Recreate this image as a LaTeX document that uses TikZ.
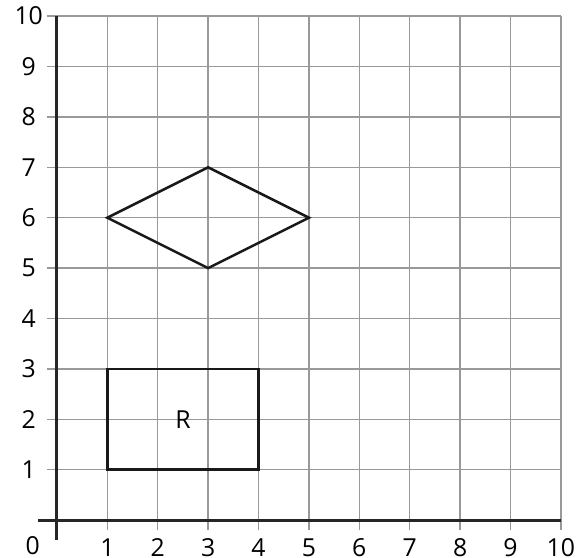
\documentclass[tikz,border=0pt]{standalone}
\usepackage{fontspec}
\setmainfont{Open Sans}
\tikzset{
  griglia/.style = {draw=black!40, line width=0.8pt},
  asse/.style    = {draw=black!85, line width=1.7pt},
  figura/.style  = {draw=black!90, line width=1.4pt, line join=miter},
  et/.style      = {font=\fontsize{14}{16}\selectfont, inner sep=0}
}
\begin{document}
\begin{tikzpicture}
  \useasboundingbox (-1.13,-0.75) rectangle (10.30,10.32);
  % griglia
  \foreach \i in {1,...,10} {
    \draw[griglia] (\i,-0.2) -- (\i,10);
    \draw[griglia] (-0.2,\i) -- (10,\i);
  }
  % assi
  \draw[asse] (-0.38,0) -- (10,0);
  \draw[asse] (0,-0.4) -- (0,10);
  \foreach \i in {1,...,10} {
    \node[et] (x\i) at (\i,-0.55) {\i};
    \node[et] (y\i) at (-0.56,\i) {\i};
  }
  \node[et] (o) at (-0.48,-0.5) {0};
  % figure
  \draw[figura] (1,6) -- (3,7) -- (5,6) -- (3,5) -- cycle;
  \draw[figura] (1,1) rectangle (4,3);
  \node[et] (R) at (2.5,2) {R};
\end{tikzpicture}
\end{document}
